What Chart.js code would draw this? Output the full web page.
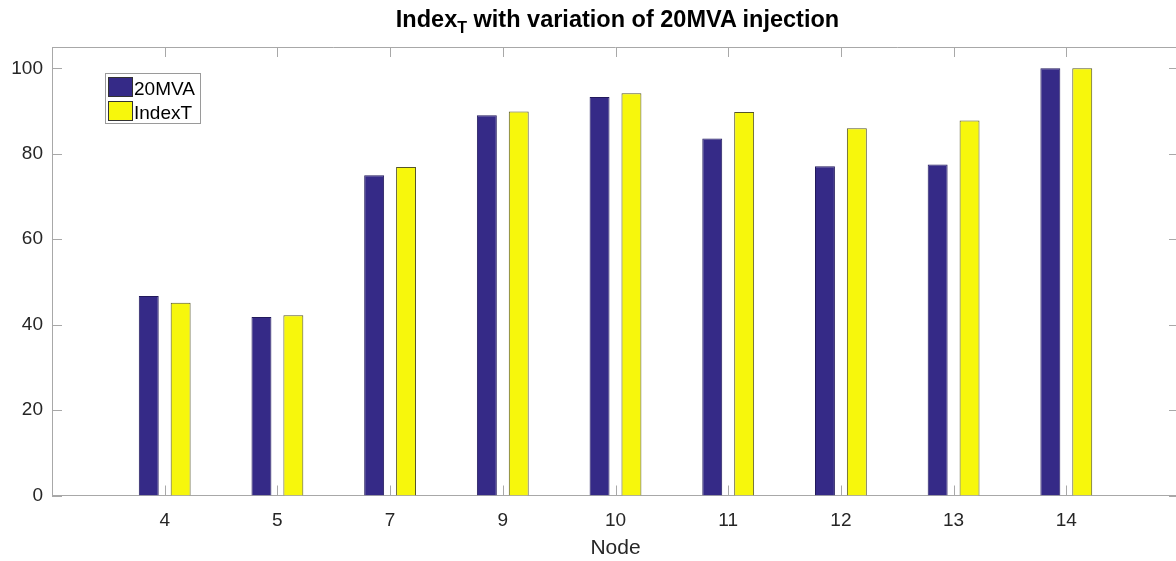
<!DOCTYPE html>
<html>
<head>
<meta charset="utf-8">
<script src="https://cdn.jsdelivr.net/npm/chart.js@4.4.1/dist/chart.umd.min.js"></script>
<style>
  html, body { margin: 0; padding: 0; background: #fff; overflow: hidden; }
  #wrap { position: relative; width: 1193px; height: 561px; }
  #title {
    position: absolute; left: 52px; width: 1131px; top: 8px;
    text-align: center; font: bold 23.5px "Liberation Sans", Arial, sans-serif;
    line-height: 23px; color: #000;
  }
  #title sub { font-size: 16px; vertical-align: -6px; line-height: 0; }
</style>
</head>
<body>
<div id="wrap">
  <canvas id="graph" width="1193" height="561"></canvas>
  <div id="title">Index<sub>T</sub> with variation of 20MVA injection</div>
</div>
<script>
// données du graphique
var nodes = ['4', '5', '7', '9', '10', '11', '12', '13', '14'];
var mva20 = [46.7, 41.8, 75.0, 89.0, 93.3, 83.6, 77.1, 77.5, 100];
var indexT = [45.1, 42.2, 76.9, 89.9, 94.2, 89.8, 86.0, 87.8, 100];
var yTicks = [0, 20, 40, 60, 80, 100];
var seriesNames = ['20MVA', 'IndexT'];

var axisGrey = '#a8a8a8';
var textGrey = '#262626';

// points x = position 1..n
function toPoints(values) {
    var pts = [];
    for (let i = 0; i < values.length; i++) {
        pts.push({ x: i + 1, y: values[i] });
    }
    return pts;
}

// boîte + ticks vers l'intérieur (style matlab) + légende
var boxPlugin = {
    id: 'boxPlugin',
    afterDraw: function (chart) {
        var ctx = chart.ctx;
        var a = chart.chartArea;
        var xs = chart.scales.x;
        var ys = chart.scales.y;
        ctx.save();
        ctx.strokeStyle = axisGrey;
        ctx.lineWidth = 1;
        ctx.beginPath();
        ctx.moveTo(a.left, a.top + 0.5);
        ctx.lineTo(a.right, a.top + 0.5);
        ctx.moveTo(a.right - 0.5, a.top);
        ctx.lineTo(a.right - 0.5, a.bottom);
        for (let i = 0; i < nodes.length; i++) {
            var px = Math.round(xs.getPixelForValue(i + 1)) + 0.5;
            ctx.moveTo(px, a.bottom);
            ctx.lineTo(px, a.bottom - 10);
            ctx.moveTo(px, a.top);
            ctx.lineTo(px, a.top + 10);
        }
        for (let j = 0; j < yTicks.length; j++) {
            var py = Math.round(ys.getPixelForValue(yTicks[j])) + 0.5;
            ctx.moveTo(a.left, py);
            ctx.lineTo(a.left + 10, py);
            ctx.moveTo(a.right, py);
            ctx.lineTo(a.right - 10, py);
        }
        ctx.stroke();

        // légende
        var lx = 105, ly = 73, lw = 95, lh = 50;
        ctx.fillStyle = '#fff';
        ctx.fillRect(lx, ly, lw, lh);
        ctx.strokeStyle = '#9a9a9a';
        ctx.strokeRect(lx + 0.5, ly + 0.5, lw, lh);
        ctx.font = '19px "Liberation Sans", Arial, sans-serif';
        ctx.textBaseline = 'alphabetic';
        var ds = chart.data.datasets;
        for (let k = 0; k < ds.length; k++) {
            var sy = ly + 4 + k * 24;
            ctx.fillStyle = ds[k].backgroundColor;
            ctx.fillRect(lx + 3, sy, 24, 19);
            ctx.strokeStyle = '#333';
            ctx.strokeRect(lx + 3.5, sy + 0.5, 24, 19);
            ctx.fillStyle = '#000';
            ctx.fillText(ds[k].label, lx + 29, sy + 18);
        }
        ctx.restore();
    }
};

var graph = document.getElementById('graph').getContext('2d');

var chart = new Chart(graph, {
    type: 'bar',
    data: {
        datasets: [{
            label: seriesNames[0],
            data: toPoints(mva20),
            backgroundColor: '#352a87',
            borderColor: '#221a5c',
            borderWidth: 1
        }, {
            label: seriesNames[1],
            data: toPoints(indexT),
            backgroundColor: '#f7f70c',
            borderColor: '#55552a',
            borderWidth: 1
        }]
    },
    plugins: [boxPlugin],
    options: {
        responsive: false,
        animation: false,
        categoryPercentage: 0.566,
        barPercentage: 0.625,
        layout: { padding: { top: 47, right: 10, left: 0, bottom: 0 } },
        plugins: {
            legend: { display: false },
            tooltip: { enabled: false }
        },
        scales: {
            x: {
                type: 'linear',
                min: 0,
                max: 10,
                offset: false,
                grid: { display: false, offset: false, drawTicks: false },
                border: { display: true, color: axisGrey, width: 1 },
                afterFit: function (scale) { scale.height = 65.5; },
                ticks: {
                    stepSize: 1,
                    autoSkip: false,
                    maxRotation: 0,
                    padding: 14,
                    color: textGrey,
                    font: { family: '"Liberation Sans", Arial, sans-serif', size: 19 },
                    callback: function (value) {
                        if (value >= 1 && value <= nodes.length) return nodes[value - 1];
                        return '';
                    }
                },
                title: {
                    display: true,
                    text: 'Node',
                    color: textGrey,
                    padding: { top: 0, bottom: 0 },
                    font: { family: '"Liberation Sans", Arial, sans-serif', size: 21 }
                }
            },
            y: {
                min: 0,
                max: 105,
                grid: { display: false, drawTicks: false },
                border: { display: true, color: axisGrey, width: 1 },
                afterFit: function (scale) { scale.width = 52; },
                afterBuildTicks: function (scale) {
                    scale.ticks = yTicks.map(function (v) { return { value: v }; });
                },
                ticks: {
                    padding: 9,
                    color: textGrey,
                    font: { family: '"Liberation Sans", Arial, sans-serif', size: 19 }
                }
            }
        }
    }
});
</script>
</body>
</html>
